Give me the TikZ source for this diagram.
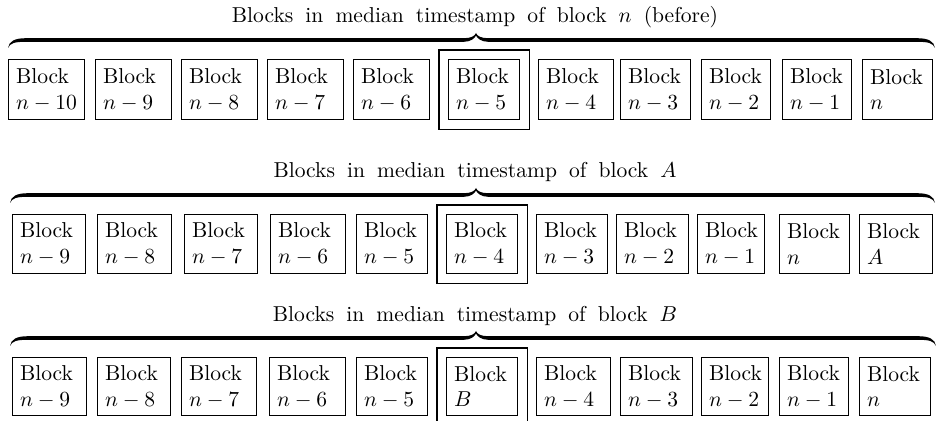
\documentclass[tikz,border=0pt]{standalone}
\usetikzlibrary{fit}
\newcommand\bk[6]{%
  \pgfmathsetlengthmacro\bkw{(#3-#2)*0.4638pt}%
  \pgfmathsetlengthmacro\bkh{(#5-#4)*0.4638pt}%
  \pgfmathsetlengthmacro\bkt{(#3-#2)*0.4638pt-7pt}%
  \node[blk, minimum width=\bkw, minimum height=\bkh, text width=\bkt] (#1) at (#2,#4) {Block\\#6};}
\newcommand\mn[1]{$n-#1$}
% calligraphic-style brace: x1, x2, xtip, ybase (pixels, y down)
\newcommand\mybrc[4]{%
 \fill ({#1},{#4}) .. controls ({#1+1},{#4-7}) and ({#1+7},{#4-9.8}) .. ({#1+18},{#4-9.8})
   -- ({#3-12},{#4-9.8}) .. controls ({#3-5},{#4-9.8}) and ({#3-1},{#4-12}) .. ({#3},{#4-15})
   .. controls ({#3+1},{#4-12}) and ({#3+5},{#4-9.8}) .. ({#3+12},{#4-9.8})
   -- ({#2-18},{#4-9.8}) .. controls ({#2-7},{#4-9.8}) and ({#2-1},{#4-7}) .. ({#2},{#4})
   .. controls ({#2-2},{#4-5}) and ({#2-7},{#4-6.2}) .. ({#2-18},{#4-6.2})
   -- ({#3+12},{#4-6.2}) .. controls ({#3+5},{#4-6.2}) and ({#3+1},{#4-10}) .. ({#3},{#4-12.5})
   .. controls ({#3-1},{#4-10}) and ({#3-5},{#4-6.2}) .. ({#3-12},{#4-6.2})
   -- ({#1+18},{#4-6.2}) .. controls ({#1+7},{#4-6.2}) and ({#1+2},{#4-5}) .. ({#1},{#4}) -- cycle;}
\begin{document}
\begin{tikzpicture}[x=0.4638pt,y=-0.4638pt,
  blk/.style={draw, line width=0.5pt, inner xsep=3.5pt, inner ysep=0pt, align=left, anchor=north west},
  frame/.style={draw, line width=0.5pt, inner sep=4.17pt},
  ttl/.style={anchor=base, execute at begin node={\spaceskip=5.6pt\relax}}]
\clip (0,0) rectangle (936,421);
% ---------- row 1
\node[ttl] (t1) at (475,23) {Blocks in median timestamp of block $n$ (before)};
\mybrc{8}{935}{476}{48}
\bk{r1a}{8}{84}{59}{119}{$n\mskip1mu-\mskip1mu10$}
\bk{r1b}{95}{171}{59}{119}{\mn{9}}
\bk{r1c}{181}{257}{59}{119}{\mn{8}}
\bk{r1d}{267}{343}{59}{119}{\mn{7}}
\bk{r1e}{353}{429}{59}{119}{\mn{6}}
\bk{r1f}{448}{519}{59}{119}{\mn{5}}
\bk{r1g}{538}{613}{59}{119}{\mn{4}}
\bk{r1h}{620}{690}{59}{119}{\mn{3}}
\bk{r1i}{701}{770}{59}{119}{\mn{2}}
\bk{r1j}{782}{851}{59}{119}{\mn{1}}
\bk{r1k}{862}{932}{59}{119}{$n$}
\node[frame, fit=(r1f)] (f1) {};
% ---------- row 2
\node[ttl] (t2) at (475,178) {Blocks in median timestamp of block $A$};
\mybrc{10}{935}{476}{203}
\bk{r2a}{12}{85}{214}{273}{\mn{9}}
\bk{r2b}{97}{171}{214}{273}{\mn{8}}
\bk{r2c}{184}{257}{214}{273}{\mn{7}}
\bk{r2d}{270}{345}{214}{273}{\mn{6}}
\bk{r2e}{356}{427}{214}{273}{\mn{5}}
\bk{r2f}{446}{517}{214}{273}{\mn{4}}
\bk{r2g}{536}{607}{214}{273}{\mn{3}}
\bk{r2h}{616}{688}{214}{273}{\mn{2}}
\bk{r2i}{697}{764}{214}{273}{\mn{1}}
\bk{r2j}{779}{849}{214}{273}{$n$}
\bk{r2k}{859}{932}{214}{273}{$A$}
\node[frame, fit=(r2f)] (f2) {};
% ---------- row 3
\node[ttl] (t3) at (475,322) {Blocks in median timestamp of block $B$};
\mybrc{10}{936}{476}{346}
\bk{r3a}{12}{86}{357}{415}{\mn{9}}
\bk{r3b}{97}{170}{357}{415}{\mn{8}}
\bk{r3c}{181}{256}{357}{415}{\mn{7}}
\bk{r3d}{269}{345}{357}{415}{\mn{6}}
\bk{r3e}{356}{427}{357}{415}{\mn{5}}
\bk{r3f}{446}{517}{357}{415}{$B$}
\bk{r3g}{536}{610}{357}{415}{\mn{4}}
\bk{r3h}{620}{692}{357}{415}{\mn{3}}
\bk{r3i}{701}{768}{357}{415}{\mn{2}}
\bk{r3j}{779}{848}{357}{415}{\mn{1}}
\bk{r3k}{859}{930}{357}{415}{$n$}
\node[frame, fit=(r3f)] (f3) {};
\end{tikzpicture}
\end{document}
